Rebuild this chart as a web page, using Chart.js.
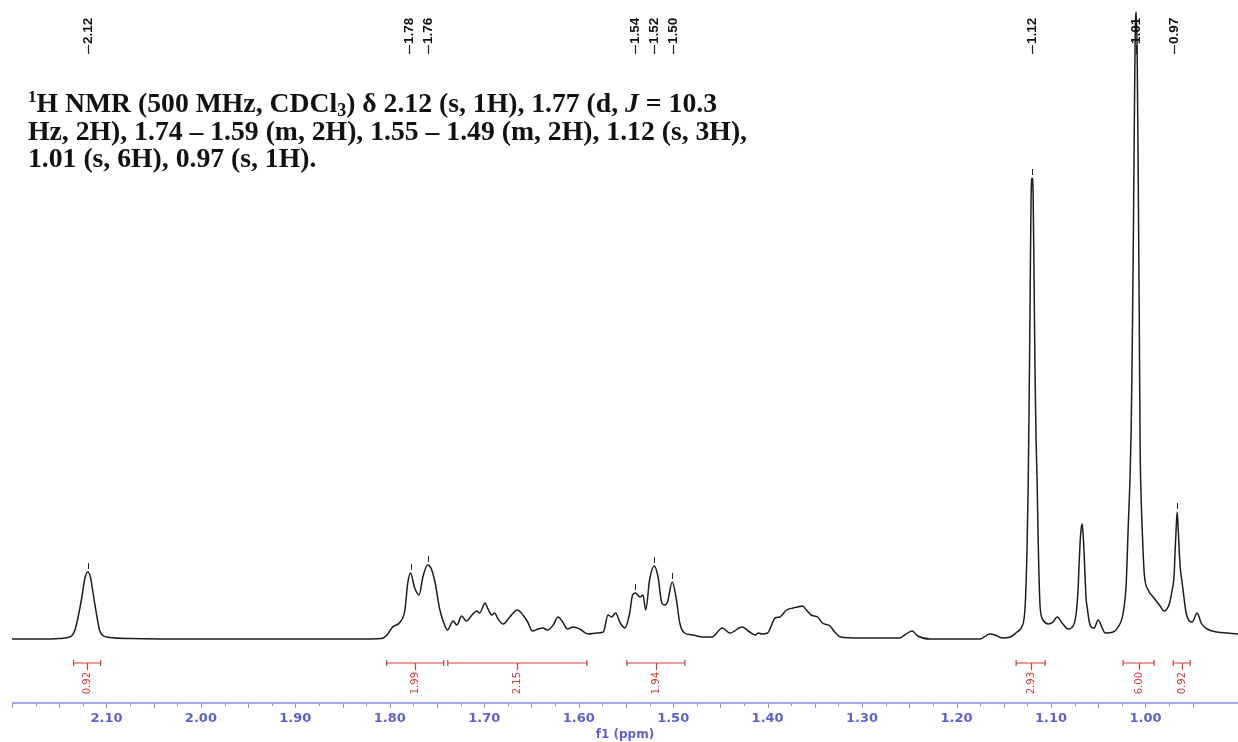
<!DOCTYPE html>
<html>
<head>
<meta charset="utf-8">
<script src="https://cdn.jsdelivr.net/npm/chart.js@4/dist/chart.umd.min.js"></script>
<style>
  body { margin: 0; background: #fff; }
  #wrap { position: relative; width: 1238px; height: 742px; }
  #note {
    position: absolute; left: 28px; top: 89px;
    font: bold 27.7px "Liberation Serif", "Times New Roman", serif;
    line-height: 27.5px; color: #111; white-space: nowrap;
  }
  #note sup { font-size: 17px; vertical-align: 10px; line-height: 0; }
  #note sub { font-size: 18px; vertical-align: -4px; line-height: 0; }
</style>
</head>
<body>
<div id="wrap">
  <canvas id="nmr" width="1238" height="742"></canvas>
  <div id="note"><sup>1</sup>H NMR (500 MHz, CDCl<sub>3</sub>) δ 2.12 (s, 1H), 1.77 (d, <i>J</i> = 10.3<br>Hz, 2H), 1.74 – 1.59 (m, 2H), 1.55 – 1.49 (m, 2H), 1.12 (s, 3H),<br>1.01 (s, 6H), 0.97 (s, 1H).</div>
</div>
<script>
// spectrum (ppm / intensity)
const shifts = [
  2.200, 2.171, 2.150, 2.141, 2.136, 2.133, 2.130, 2.126, 2.123, 2.120, 2.117, 2.114, 2.110, 2.107, 2.103, 2.097, 2.075,
  2.000, 1.900, 1.832, 1.809, 1.803, 1.797, 1.789, 1.784, 1.781, 1.778, 1.774, 1.769, 1.765, 1.760, 1.756, 1.752, 1.747,
  1.742, 1.739, 1.733, 1.729, 1.724, 1.719, 1.713, 1.708, 1.705, 1.699, 1.697, 1.692, 1.689, 1.686, 1.680, 1.673, 1.665,
  1.659, 1.654, 1.649, 1.643, 1.638, 1.633, 1.627, 1.622, 1.617, 1.612, 1.606, 1.599, 1.590, 1.581, 1.574, 1.569, 1.565,
  1.561, 1.556, 1.551, 1.546, 1.543, 1.540, 1.535, 1.532, 1.529, 1.525, 1.520, 1.516, 1.512, 1.509, 1.506, 1.501, 1.497,
  1.493, 1.488, 1.479, 1.469, 1.459, 1.448, 1.440, 1.427, 1.419, 1.413, 1.410, 1.406, 1.400, 1.392, 1.387, 1.380, 1.373,
  1.368, 1.363, 1.359, 1.354, 1.347, 1.342, 1.334, 1.329, 1.323, 1.302, 1.260, 1.255, 1.247, 1.241, 1.228, 1.196, 1.175,
  1.165, 1.159, 1.152, 1.143, 1.136, 1.131, 1.1274, 1.1253, 1.1242, 1.1232, 1.1221, 1.1211, 1.1200, 1.1189, 1.1179,
  1.1168, 1.1158, 1.1147, 1.1136, 1.1115, 1.1083, 1.1030, 1.0978, 1.0935, 1.0882, 1.0819, 1.0766, 1.0734, 1.0713,
  1.0702, 1.0692, 1.0681, 1.0670, 1.0660, 1.0649, 1.0639, 1.0628, 1.0617, 1.0596, 1.0575, 1.0543, 1.0501, 1.0458,
  1.0427, 1.0342, 1.0289, 1.0236, 1.0204, 1.0183, 1.0162, 1.0151, 1.0141, 1.0130, 1.0119, 1.0109, 1.0098, 1.0088,
  1.0077, 1.0066, 1.0056, 1.0045, 1.0034, 1.0013, 0.9971, 0.9918, 0.9844, 0.9802, 0.9760, 0.9739, 0.9717, 0.9696,
  0.9686, 0.9675, 0.9664, 0.9654, 0.9643, 0.9632, 0.9611, 0.9590, 0.9569, 0.9505, 0.9452, 0.9410, 0.9346, 0.9240,
  0.9134, 0.9018
];
const intensity = [
  0, 0, 0.5, 1.5, 4, 10, 22, 42, 60, 67, 62, 45, 22, 8, 3, 1.5, 0.5,
  0, 0, 0, 0.5, 4, 12, 17, 29, 56, 66, 52, 44, 62, 74, 70, 56, 29,
  14, 9, 18, 14, 23, 18, 24, 28, 26, 36, 32, 24, 26, 21, 15, 22, 29,
  24, 17, 8, 10, 11, 9, 14, 22, 17, 10, 12, 10, 5, 6, 7, 24, 22,
  26, 16, 11, 26, 44, 46, 42, 44, 29, 59, 73, 62, 36, 34, 37, 57, 42,
  16, 6, 4, 2, 2, 11, 6, 12, 7, 4, 6, 5, 6, 21, 22, 29, 31,
  32, 33, 29, 24, 22, 16, 13, 7, 2, 1, 1, 4, 8, 3, 0, 0, 0,
  5, 4, 1, 2, 7, 12, 32, 92, 150, 230, 340, 440, 461, 445, 360,
  260, 200, 159, 100, 32, 19, 15, 17, 22, 16, 10, 13, 25, 50,
  76, 96, 110, 115, 105, 85, 62, 40, 32, 18, 12, 11, 19, 11,
  6, 7, 12, 26, 55, 110, 165, 210, 280, 380, 500, 600, 627, 590,
  470, 330, 190, 140, 109, 66, 49, 42, 33, 28, 32, 38, 49, 64,
  88, 110, 127, 112, 90, 72, 56, 40, 26, 17, 26, 16, 10, 7,
  6, 5
];

// peak picking labels
const peakShifts = [2.12, 1.78, 1.76, 1.54, 1.52, 1.50, 1.12, 1.01, 0.97];

// integrals
const integFrom = [2.1348, 1.8033, 1.7386, 1.5490, 1.1369, 1.0236, 0.9706];
const integTo   = [2.1062, 1.7429, 1.5914, 1.4876, 1.1062, 0.9908, 0.9526];
const integVals = ['0.92', '1.99', '2.15', '1.94', '2.93', '6.00', '0.92'];

const axisBlue = '#8d8de2';
const labelBlue = '#5f5fd2';
const integRed = '#d03c3c';

const points = shifts.map((s, i) => ({ x: s, y: intensity[i] }));

// highest point of the trace close to a picked shift
function localTop(ppm) {
  let best = { x: ppm, y: 0 };
  shifts.forEach((s, i) => {
    if (Math.abs(s - ppm) <= 0.004 && intensity[i] > best.y) best = { x: s, y: intensity[i] };
  });
  return best;
}

const decor = {
  id: 'decor',
  afterDraw(chart) {
    const { ctx, chartArea } = chart;
    const x = chart.scales.x, y = chart.scales.y;
    ctx.save();

    // axis line + ticks
    const ay = chartArea.bottom;
    ctx.strokeStyle = axisBlue;
    ctx.lineWidth = 1.5;
    ctx.beginPath();
    ctx.moveTo(chartArea.left, ay);
    ctx.lineTo(chartArea.right, ay);
    ctx.stroke();
    ctx.lineWidth = 1;
    x.ticks.forEach(t => {
      const q = Math.round(t.value / 0.025);
      if (Math.abs(t.value - q * 0.025) > 1e-6) return;
      const px = Math.round(x.getPixelForValue(t.value)) + 0.5;
      const len = q % 2 === 0 ? 5 : 3;
      ctx.beginPath();
      ctx.moveTo(px, ay);
      ctx.lineTo(px, ay + len);
      ctx.stroke();
    });

    // peak labels on top
    ctx.fillStyle = '#111';
    ctx.strokeStyle = '#222';
    ctx.font = 'bold 12px "Liberation Sans", Arial, sans-serif';
    ctx.textBaseline = 'middle';
    ctx.textAlign = 'left';
    peakShifts.forEach(p => {
      const px = Math.round(x.getPixelForValue(p)) + 0.5;
      ctx.save();
      ctx.translate(px, 44);
      ctx.rotate(-Math.PI / 2);
      ctx.scale(1.12, 1);
      ctx.fillText(p.toFixed(2), 0, 0);
      ctx.restore();
      ctx.lineWidth = 1.2;
      ctx.beginPath();
      ctx.moveTo(px, 45);
      ctx.lineTo(px, 54);
      ctx.stroke();
      // little marker over the peak top
      const top = localTop(p);
      const mx = Math.round(x.getPixelForValue(top.x)) + 0.5;
      const my = y.getPixelForValue(top.y);
      if (my > 80) {
        ctx.lineWidth = 1;
        ctx.beginPath();
        ctx.moveTo(mx, my - 3);
        ctx.lineTo(mx, my - 9);
        ctx.stroke();
      }
    });

    // integrals
    const iy = ay - 40;
    ctx.strokeStyle = integRed;
    ctx.fillStyle = integRed;
    ctx.lineWidth = 1.2;
    ctx.font = '10px "DejaVu Sans", Verdana, sans-serif';
    ctx.textAlign = 'right';
    integFrom.forEach((a, i) => {
      const x1 = x.getPixelForValue(a), x2 = x.getPixelForValue(integTo[i]);
      const xm = Math.round((x1 + x2) / 2) + 0.5;
      ctx.beginPath();
      ctx.moveTo(x1, iy); ctx.lineTo(x2, iy);
      ctx.moveTo(x1, iy - 3); ctx.lineTo(x1, iy + 3);
      ctx.moveTo(x2, iy - 3); ctx.lineTo(x2, iy + 3);
      ctx.moveTo(xm, iy); ctx.lineTo(xm, iy + 7);
      ctx.stroke();
      ctx.save();
      ctx.translate(xm, iy + 9);
      ctx.rotate(-Math.PI / 2);
      ctx.fillText(integVals[i], 0, 0);
      ctx.restore();
    });
    ctx.restore();
  }
};

new Chart(document.getElementById('nmr'), {
  type: 'line',
  data: {
    datasets: [{
      data: points,
      borderColor: '#1c1c1c',
      borderWidth: 1.5,
      pointRadius: 0,
      cubicInterpolationMode: 'monotone',
      fill: false
    }]
  },
  options: {
    responsive: false,
    devicePixelRatio: 1,
    animation: false,
    layout: { padding: { left: 12, right: 0, top: 0, bottom: 0 } },
    plugins: { legend: { display: false }, tooltip: { enabled: false } },
    scales: {
      x: {
        type: 'linear',
        reverse: true,
        min: 0.902,
        max: 2.2,
        grid: { display: false, drawTicks: false },
        border: { display: false },
        ticks: {
          stepSize: 0.025,
          autoSkip: false,
          maxRotation: 0,
          padding: 8,
          color: labelBlue,
          font: { family: 'DejaVu Sans', size: 13, weight: 'bold' },
          callback: (v, i, all) => {
            if (i === 0 || i === all.length - 1) return '';
            return Math.abs(v * 10 - Math.round(v * 10)) < 1e-6 ? v.toFixed(2) : '';
          }
        },
        title: {
          display: true,
          text: 'f1 (ppm)',
          color: labelBlue,
          font: { family: 'DejaVu Sans', size: 12, weight: 'bold' },
          padding: { top: 0, bottom: 0 }
        },
        afterFit: s => {
          s.height = 39;
          s.paddingLeft = 0;
          s.paddingRight = 0;
        }
      },
      y: {
        display: false,
        min: -64,
        max: 639
      }
    }
  },
  plugins: [decor]
});
</script>
</body>
</html>
